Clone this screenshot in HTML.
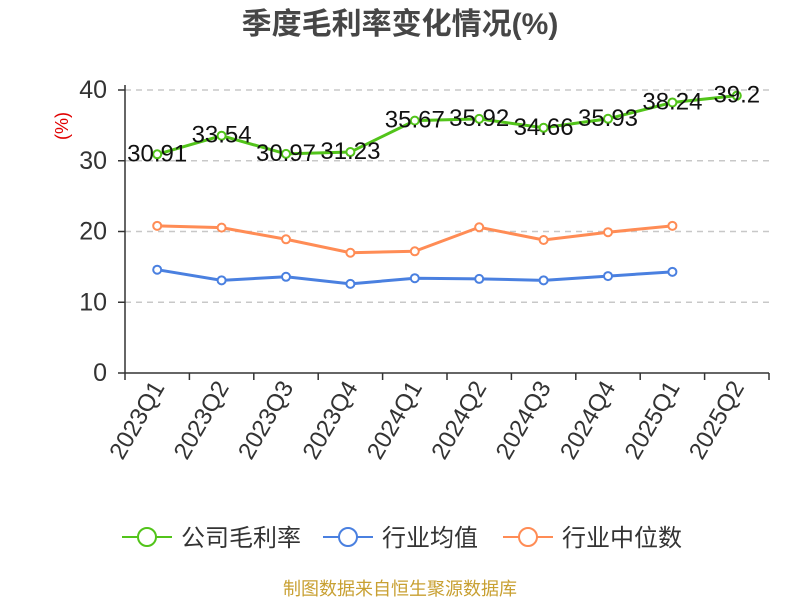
<!DOCTYPE html>
<html><head><meta charset="utf-8"><style>
body{margin:0;background:#fff;font-family:"Liberation Sans","Noto Sans CJK SC",sans-serif;}
</style></head><body>
<svg id="chart" width="800" height="600" xmlns="http://www.w3.org/2000/svg" font-family="Liberation Sans, Noto Sans CJK SC, sans-serif">
<text x="400" y="34" text-anchor="middle" font-size="30" font-weight="bold" fill="#464646">季度毛利率变化情况(%)</text>
<text x="68" y="126" font-size="18" fill="#e00000" transform="rotate(-90 68 126)" text-anchor="middle">(%)</text>
<g id="grid"></g><g id="axes"></g><g id="series"></g><g id="labels"></g>
<g id="legend"></g>
<text x="400" y="595" text-anchor="middle" font-size="18" fill="#c8a032">制图数据来自恒生聚源数据库</text>
</svg>
<script>
const categories=["2023Q1","2023Q2","2023Q3","2023Q4","2024Q1","2024Q2","2024Q3","2024Q4","2025Q1","2025Q2"];
const companyMargin=[30.91,33.54,30.97,31.23,35.67,35.92,34.66,35.93,38.24,39.2];
const industryAvg=[14.6,13.1,13.6,12.6,13.4,13.3,13.1,13.7,14.3];
const industryMedian=[20.8,20.55,18.9,17.0,17.2,20.6,18.8,19.9,20.8];
const yTicks=[0,10,20,30,40];
const NS="http://www.w3.org/2000/svg";
const x0=125,x1=769,y0=373,y40=90;
const band=(x1-x0)/categories.length;
const xs=i=>x0+band*(i+0.5);
const ys=v=>y0-(v/40)*(y0-y40);
function mk(tag,attrs,parent,text){const e=document.createElementNS(NS,tag);for(const k in attrs)e.setAttribute(k,attrs[k]);if(text!==undefined)e.textContent=text;parent.appendChild(e);return e;}
const grid=document.getElementById('grid'),axes=document.getElementById('axes'),series=document.getElementById('series'),labels=document.getElementById('labels'),legend=document.getElementById('legend');
yTicks.forEach(t=>{
  if(t>0){const g=mk('line',{x1:x0,x2:x1,y1:ys(t),y2:ys(t),stroke:'#c8c8c8','stroke-dasharray':'6,5','stroke-width':1.5},grid);
  
  }
  const tl=mk('text',{x:107,y:ys(t)+8,'text-anchor':'end','font-size':25,fill:'#333'},axes,String(t));
  
  
  mk('line',{x1:x0-7,x2:x0,y1:ys(t),y2:ys(t),stroke:'#333','stroke-width':1.5},axes);
});
const ya=mk('line',{x1:x0,x2:x0,y1:y40-5,y2:y0,stroke:'#333','stroke-width':1.5},axes);


const xa=mk('line',{x1:x0,x2:x1,y1:y0,y2:y0,stroke:'#333','stroke-width':1.5},axes);


for(let i=0;i<=categories.length;i++)mk('line',{x1:x0+band*i,x2:x0+band*i,y1:y0,y2:y0+7,stroke:'#333','stroke-width':1.5},axes);
categories.forEach((c,i)=>{
  const x=xs(i)+8,y=y0+14;
  const t=mk('text',{x:x,y:y,'text-anchor':'end','font-size':24,fill:'#333',transform:`rotate(-60 ${x} ${y})`},axes,c);
  
  
});
function drawSeries(vals,color,name){
  const pts=vals.map((v,i)=>xs(i)+','+ys(v)).join(' ');
  const pl=mk('polyline',{points:pts,fill:'none',stroke:color,'stroke-width':3},series);
  
  
  vals.forEach((v,i)=>{
    const c=mk('circle',{cx:xs(i),cy:ys(v),r:4,fill:'#fff',stroke:color,'stroke-width':2},series);
    
    
  });
}
drawSeries(industryMedian,'#ff8c55','industry-median');
drawSeries(industryAvg,'#4a80e0','industry-average');
drawSeries(companyMargin,'#52c41a','company-margin');
companyMargin.forEach((v,i)=>{
  const t=mk('text',{x:xs(i),y:ys(v)+7,'text-anchor':'middle','font-size':24,fill:'#111'},labels,String(v));
  
  
});
const leg=[["公司毛利率","#52c41a",122],["行业均值","#4a80e0",323],["行业中位数","#ff8c55",503]];
leg.forEach(([n,c,x])=>{
  const g=mk('g',{},legend);
  
  
  mk('line',{x1:x,x2:x+50,y1:537,y2:537,stroke:c,'stroke-width':2},g);
  mk('circle',{cx:x+25,cy:537,r:9,fill:'#fff',stroke:c,'stroke-width':2},g);
  mk('text',{x:x+59,y:546,'font-size':24,fill:'#333'},g,n);
});
</script>
</body></html>
